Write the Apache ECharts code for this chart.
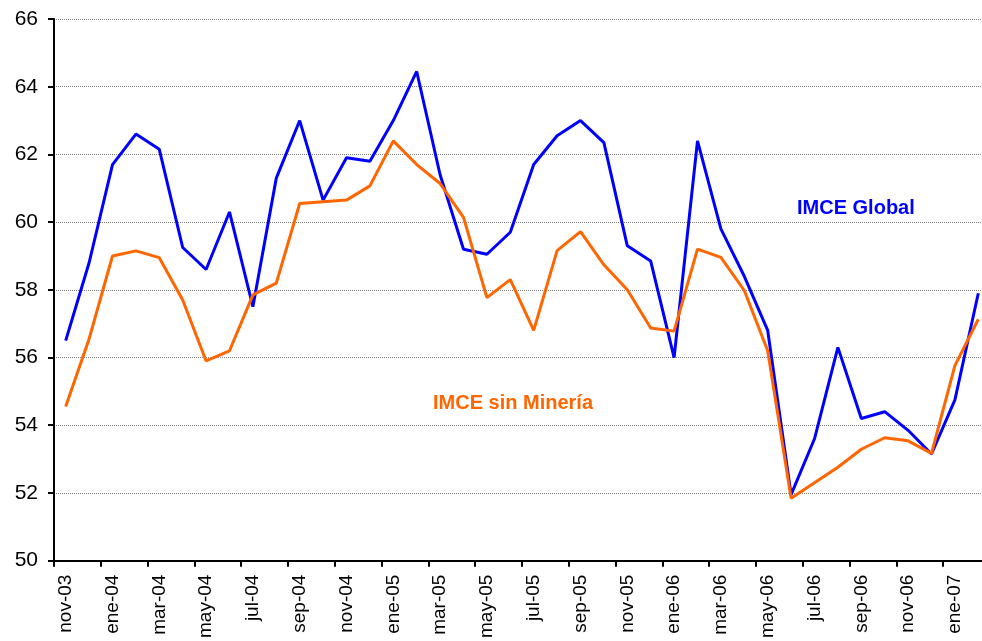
<!DOCTYPE html>
<html>
<head>
<meta charset="utf-8">
<script src="https://cdn.jsdelivr.net/npm/echarts@6/dist/echarts.min.js"></script>
<style>
html,body{margin:0;padding:0;background:#fff;overflow:hidden;}
#c{width:990px;height:641px;}
</style>
</head>
<body>
<div id="c"></div>
<script>
const categories = ['nov-03','dic-03','ene-04','feb-04','mar-04','abr-04','may-04','jun-04','jul-04','ago-04','sep-04','oct-04','nov-04','dic-04','ene-05','feb-05','mar-05','abr-05','may-05','jun-05','jul-05','ago-05','sep-05','oct-05','nov-05','dic-05','ene-06','feb-06','mar-06','abr-06','may-06','jun-06','jul-06','ago-06','sep-06','oct-06','nov-06','dic-06','ene-07','feb-07'];
const imceGlobal = [56.5,58.8,61.7,62.6,62.15,59.25,58.6,60.3,57.5,61.3,63.0,60.65,61.9,61.8,63.0,64.45,61.4,59.2,59.05,59.7,61.7,62.55,63.0,62.35,59.3,58.85,56.0,62.4,59.8,58.4,56.8,51.95,53.6,56.3,54.2,54.4,53.85,53.15,54.75,57.9];
const imceSinMineria = [54.55,56.55,59.0,59.15,58.95,57.7,55.9,56.2,57.85,58.2,60.55,60.6,60.65,61.07,62.4,61.7,61.14,60.14,57.77,58.3,56.8,59.16,59.72,58.74,58.0,56.87,56.78,59.2,58.96,57.98,56.2,51.84,52.3,52.76,53.29,53.63,53.54,53.17,55.76,57.13];
const seriesNames = ['IMCE Global','IMCE sin Minería'];
const yMin = 50, yMax = 66, yStep = 2;

const font = "'Liberation Sans', Arial, sans-serif";
const chart = echarts.init(document.getElementById('c'), null, {renderer:'canvas'});
chart.setOption({
  animation: false,
  backgroundColor: '#ffffff',
  grid: {left: 54, top: 19, bottom: 76, right: 0, containLabel: false},
  xAxis: {
    type: 'category',
    data: categories,
    boundaryGap: true,
    axisLine: {lineStyle: {color: '#000', width: 2}},
    axisTick: {show: true, interval: 1, length: 6, lineStyle: {color: '#000', width: 2}},
    axisLabel: {interval: 1, rotate: 90, margin: 14, color: '#000', fontSize: 19, fontFamily: font},
    splitLine: {show: false}
  },
  yAxis: {
    type: 'value',
    min: yMin, max: yMax, interval: yStep,
    axisLine: {show: true, lineStyle: {color: '#000', width: 2}},
    axisTick: {show: true, length: 6, lineStyle: {color: '#000', width: 2}},
    axisLabel: {margin: 16, color: '#000', fontSize: 21, fontFamily: font},
    splitLine: {show: true, lineStyle: {color: '#808080', width: 1, type: [1,1]}}
  },
  series: [
    {name: seriesNames[0], type: 'line', data: imceGlobal, symbol: 'none',
     lineStyle: {color: '#0000ff', width: 3}, itemStyle: {color: '#0000ff'}},
    {name: seriesNames[1], type: 'line', data: imceSinMineria, symbol: 'none',
     lineStyle: {color: '#ff6600', width: 3}, itemStyle: {color: '#ff6600'}}
  ],
  graphic: [
    {type: 'text', left: 797, top: 198, style: {text: seriesNames[0], fill: '#0000ff', font: 'bold 20px ' + font}},
    {type: 'text', left: 433, top: 393, style: {text: seriesNames[1], fill: '#ff6600', font: 'bold 20px ' + font}}
  ]
});
</script>
</body>
</html>
